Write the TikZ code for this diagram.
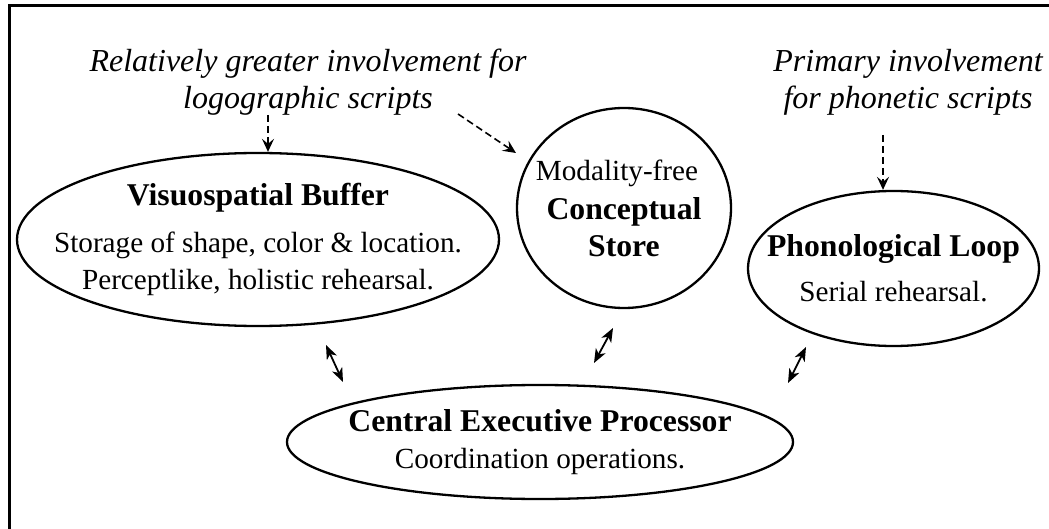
\documentclass[tikz,border=0pt]{standalone}
\usepackage{fontspec}
\setmainfont{Liberation Serif}
\usetikzlibrary{shapes.geometric,arrows.meta}
\begin{document}
\begin{tikzpicture}[x=1pt,y=-1pt,
  box/.style={ellipse,draw,line width=2.3pt,inner sep=-100pt,align=center,font=\fontsize{29.2}{37}\selectfont},
  note/.style={inner sep=0pt,align=center,font=\fontsize{32}{37}\selectfont\itshape},
  dasharrow/.style={dash pattern=on 7pt off 4pt,line width=1.6pt,-{Stealth[length=13pt,width=12pt,inset=5pt]}},
  bi/.style={line width=1.8pt,{Stealth[length=14pt,width=11pt,inset=4pt]}-{Stealth[length=14pt,width=11pt,inset=4pt]}}
]
\useasboundingbox (0,0) rectangle (1049,529);
\draw[line width=3pt] (1049,6) -- (9,6) -- (9,529);

\newcommand{\ttl}[1]{{\bfseries\fontsize{31.7}{37}\selectfont #1}}

\node[box,minimum width=482pt,minimum height=173pt] (vb) at (258,239.5)
  {\ttl{Visuospatial Buffer}\\[10pt] Storage of shape, color \& location.\\ Perceptlike, holistic rehearsal.};
\node[box,minimum width=214pt,minimum height=200pt] (cs) at (624,208)
  {Modality-free\hspace*{14pt}\\[2pt]\ttl{Conceptual}\\\ttl{Store}};
\node[box,minimum width=291pt,minimum height=155pt] (pl) at (893.5,268.5)
  {\ttl{Phonological Loop}\\[8pt] Serial rehearsal.};
\node[box,minimum width=506pt,minimum height=114pt] (ce) at (540,442)
  {\ttl{Central Executive Processor}\\ Coordination operations.};

\node[note] (n1) at (308,82)
  {Relatively greater involvement for\\logographic scripts};
\node[note] (n2) at (908,82)
  {Primary involvement\\for phonetic scripts};

\coordinate (a1s) at (268,115);
\coordinate (a2s) at (458,114);
\coordinate (a2e) at (516,153);
\coordinate (a3s) at (883,135);
\draw[dasharrow] (a1s) -- (a1s |- vb.north);
\draw[dasharrow] (a2s) -- (a2e);
\draw[dasharrow] (a3s) -- (a3s |- pl.north);

\coordinate (b1s) at (326,345); \coordinate (b1e) at (343,382);
\coordinate (b2s) at (613,328); \coordinate (b2e) at (594,363);
\coordinate (b3s) at (806,347); \coordinate (b3e) at (788,383);
\draw[bi] (b1s) -- (b1e);
\draw[bi] (b2s) -- (b2e);
\draw[bi] (b3s) -- (b3e);
\end{tikzpicture}
\end{document}
